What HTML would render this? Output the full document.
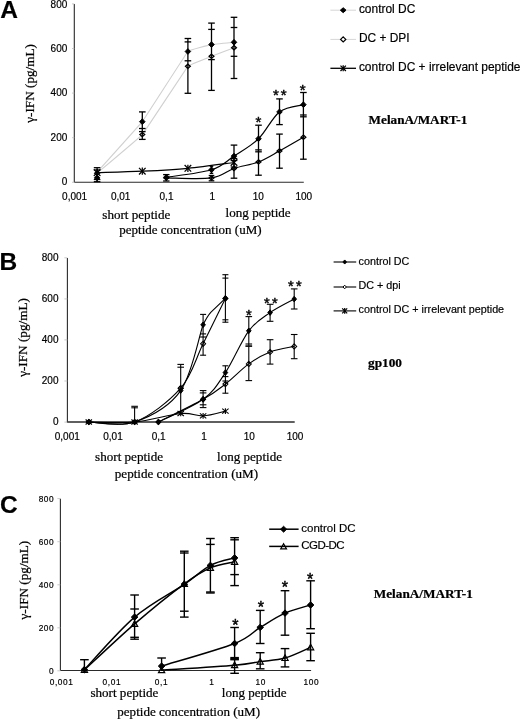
<!DOCTYPE html>
<html lang="en">
<head>
<meta charset="utf-8">
<title>Figure</title>
<style>
html,body{margin:0;padding:0;background:#fff;}
body{width:520px;height:719px;overflow:hidden;}
svg{display:block;}
</style>
</head>
<body>
<svg width="520" height="719" viewBox="0 0 520 719">
<defs><filter id="soft" x="0" y="0" width="100%" height="100%" filterUnits="objectBoundingBox"><feGaussianBlur stdDeviation="0.38"/></filter></defs>
<rect width="520" height="719" fill="#fff"/>
<g filter="url(#soft)">
<rect width="520" height="719" fill="#fff"/>
<line x1="74.3" y1="3.9" x2="74.3" y2="182.2" stroke="#2a2a2a" stroke-width="1.1"/>
<line x1="74.3" y1="182.2" x2="303.8" y2="182.2" stroke="#2a2a2a" stroke-width="1.1"/>
<text x="67.3" y="7.5" font-family="&quot;Liberation Sans&quot;,Arial,sans-serif" font-size="10" font-weight="normal" text-anchor="end" stroke="#000" stroke-width="0.18" >800</text>
<line x1="72" y1="3.9" x2="74.3" y2="3.9" stroke="#bbb" stroke-width="0.8"/>
<text x="67.3" y="51.9" font-family="&quot;Liberation Sans&quot;,Arial,sans-serif" font-size="10" font-weight="normal" text-anchor="end" stroke="#000" stroke-width="0.18" >600</text>
<line x1="72" y1="48.5" x2="74.3" y2="48.5" stroke="#bbb" stroke-width="0.8"/>
<text x="67.3" y="96.3" font-family="&quot;Liberation Sans&quot;,Arial,sans-serif" font-size="10" font-weight="normal" text-anchor="end" stroke="#000" stroke-width="0.18" >400</text>
<line x1="72" y1="93.1" x2="74.3" y2="93.1" stroke="#bbb" stroke-width="0.8"/>
<text x="67.3" y="140.8" font-family="&quot;Liberation Sans&quot;,Arial,sans-serif" font-size="10" font-weight="normal" text-anchor="end" stroke="#000" stroke-width="0.18" >200</text>
<line x1="72" y1="137.7" x2="74.3" y2="137.7" stroke="#bbb" stroke-width="0.8"/>
<text x="67.3" y="185.2" font-family="&quot;Liberation Sans&quot;,Arial,sans-serif" font-size="10" font-weight="normal" text-anchor="end" stroke="#000" stroke-width="0.18" >0</text>
<line x1="72" y1="182.3" x2="74.3" y2="182.3" stroke="#bbb" stroke-width="0.8"/>
<text x="74.6" y="200.1" font-family="&quot;Liberation Sans&quot;,Arial,sans-serif" font-size="10" font-weight="normal" text-anchor="middle" stroke="#000" stroke-width="0.18" >0,001</text>
<text x="120.7" y="200.1" font-family="&quot;Liberation Sans&quot;,Arial,sans-serif" font-size="10" font-weight="normal" text-anchor="middle" stroke="#000" stroke-width="0.18" >0,01</text>
<text x="166.5" y="200.1" font-family="&quot;Liberation Sans&quot;,Arial,sans-serif" font-size="10" font-weight="normal" text-anchor="middle" stroke="#000" stroke-width="0.18" >0,1</text>
<text x="212.2" y="200.1" font-family="&quot;Liberation Sans&quot;,Arial,sans-serif" font-size="10" font-weight="normal" text-anchor="middle" stroke="#000" stroke-width="0.18" >1</text>
<text x="258.3" y="200.1" font-family="&quot;Liberation Sans&quot;,Arial,sans-serif" font-size="10" font-weight="normal" text-anchor="middle" stroke="#000" stroke-width="0.18" >10</text>
<text x="303.8" y="200.1" font-family="&quot;Liberation Sans&quot;,Arial,sans-serif" font-size="10" font-weight="normal" text-anchor="middle" stroke="#000" stroke-width="0.18" >100</text>
<path d="M97.1 172.2 C98 171.19 140.48 124.11 142.3 121.7 C144.12 119.29 186.52 53.04 187.9 51.5 C189.28 49.96 210.58 44.78 211.5 44.6 C212.42 44.42 233.55 42.35 234 42.3" stroke="#d0d0d0" stroke-width="1.1" fill="none"/>
<path d="M97.1 173.2 C98 172.43 140.48 136.74 142.3 134.6 C144.12 132.46 186.52 67.87 187.9 66.3 C189.28 64.73 210.58 56.67 211.5 56.3 C212.42 55.93 233.55 47.87 234 47.7" stroke="#d0d0d0" stroke-width="1.1" fill="none"/>
<path d="M97.1 172.7 C104.63 172.45 127.17 171.93 142.3 171.2 C157.43 170.47 172.62 169.75 187.9 168.3 C203.18 166.85 226.32 163.47 234 162.5" stroke="#000" stroke-width="1.25" fill="none"/>
<path d="M166.3 177.3 C173.83 176.05 200.22 173.33 211.5 169.8 C222.78 166.27 226.17 161.27 234 156.1 C241.83 150.93 250.92 146.17 258.5 138.8 C266.08 131.43 272.02 117.58 279.5 111.9 C286.98 106.22 299.42 105.9 303.4 104.7" stroke="#000" stroke-width="1.2" fill="none"/>
<path d="M166.3 177.9 C173.83 177.9 200.22 179.47 211.5 177.9 C222.78 176.33 226.17 171.17 234 168.5 C241.83 165.83 250.92 164.83 258.5 161.9 C266.08 158.97 272.02 155.02 279.5 150.9 C286.98 146.78 299.42 139.48 303.4 137.2" stroke="#000" stroke-width="1.2" fill="none"/>
<line x1="93.8" y1="167.7" x2="100.4" y2="167.7" stroke="#000" stroke-width="1.3"/>
<line x1="93.8" y1="170" x2="100.4" y2="170" stroke="#000" stroke-width="1.3"/>
<line x1="93.8" y1="179.5" x2="100.4" y2="179.5" stroke="#000" stroke-width="1.3"/>
<line x1="93.8" y1="181.7" x2="100.4" y2="181.7" stroke="#000" stroke-width="1.3"/>
<line x1="139" y1="111.9" x2="145.6" y2="111.9" stroke="#000" stroke-width="1.3"/>
<line x1="139" y1="131.6" x2="145.6" y2="131.6" stroke="#000" stroke-width="1.3"/>
<line x1="139" y1="128.5" x2="145.6" y2="128.5" stroke="#000" stroke-width="1.3"/>
<line x1="139" y1="139.4" x2="145.6" y2="139.4" stroke="#000" stroke-width="1.3"/>
<line x1="184.6" y1="41.9" x2="191.2" y2="41.9" stroke="#000" stroke-width="1.3"/>
<line x1="184.6" y1="60.8" x2="191.2" y2="60.8" stroke="#000" stroke-width="1.3"/>
<line x1="184.6" y1="38.5" x2="191.2" y2="38.5" stroke="#000" stroke-width="1.3"/>
<line x1="184.6" y1="93.3" x2="191.2" y2="93.3" stroke="#000" stroke-width="1.3"/>
<line x1="208.2" y1="29.4" x2="214.8" y2="29.4" stroke="#000" stroke-width="1.3"/>
<line x1="208.2" y1="59.6" x2="214.8" y2="59.6" stroke="#000" stroke-width="1.3"/>
<line x1="208.2" y1="23.1" x2="214.8" y2="23.1" stroke="#000" stroke-width="1.3"/>
<line x1="208.2" y1="90.4" x2="214.8" y2="90.4" stroke="#000" stroke-width="1.3"/>
<line x1="230.7" y1="27.5" x2="237.3" y2="27.5" stroke="#000" stroke-width="1.3"/>
<line x1="230.7" y1="56.3" x2="237.3" y2="56.3" stroke="#000" stroke-width="1.3"/>
<line x1="230.7" y1="17.3" x2="237.3" y2="17.3" stroke="#000" stroke-width="1.3"/>
<line x1="230.7" y1="78.5" x2="237.3" y2="78.5" stroke="#000" stroke-width="1.3"/>
<line x1="163.1" y1="174.6" x2="169.5" y2="174.6" stroke="#000" stroke-width="1.3"/>
<line x1="163.1" y1="181" x2="169.5" y2="181" stroke="#000" stroke-width="1.3"/>
<line x1="209.75" y1="166.3" x2="213.25" y2="166.3" stroke="#000" stroke-width="1.3"/>
<line x1="209.75" y1="173.4" x2="213.25" y2="173.4" stroke="#000" stroke-width="1.3"/>
<line x1="208.7" y1="175.5" x2="214.3" y2="175.5" stroke="#000" stroke-width="1.3"/>
<line x1="208.7" y1="180.8" x2="214.3" y2="180.8" stroke="#000" stroke-width="1.3"/>
<line x1="230.7" y1="145.1" x2="237.3" y2="145.1" stroke="#000" stroke-width="1.3"/>
<line x1="230.7" y1="167" x2="237.3" y2="167" stroke="#000" stroke-width="1.3"/>
<line x1="230.7" y1="158.5" x2="237.3" y2="158.5" stroke="#000" stroke-width="1.3"/>
<line x1="230.7" y1="160.5" x2="237.3" y2="160.5" stroke="#000" stroke-width="1.3"/>
<line x1="230.7" y1="178.2" x2="237.3" y2="178.2" stroke="#000" stroke-width="1.3"/>
<line x1="255.2" y1="125.2" x2="261.8" y2="125.2" stroke="#000" stroke-width="1.3"/>
<line x1="255.2" y1="151.8" x2="261.8" y2="151.8" stroke="#000" stroke-width="1.3"/>
<line x1="255.2" y1="149.9" x2="261.8" y2="149.9" stroke="#000" stroke-width="1.3"/>
<line x1="255.2" y1="175.2" x2="261.8" y2="175.2" stroke="#000" stroke-width="1.3"/>
<line x1="276.2" y1="98.9" x2="282.8" y2="98.9" stroke="#000" stroke-width="1.3"/>
<line x1="276.2" y1="124.6" x2="282.8" y2="124.6" stroke="#000" stroke-width="1.3"/>
<line x1="276.2" y1="134.1" x2="282.8" y2="134.1" stroke="#000" stroke-width="1.3"/>
<line x1="276.2" y1="168.2" x2="282.8" y2="168.2" stroke="#000" stroke-width="1.3"/>
<line x1="300.1" y1="92.5" x2="306.7" y2="92.5" stroke="#000" stroke-width="1.3"/>
<line x1="300.1" y1="116.8" x2="306.7" y2="116.8" stroke="#000" stroke-width="1.3"/>
<line x1="300.1" y1="115" x2="306.7" y2="115" stroke="#000" stroke-width="1.3"/>
<line x1="300.1" y1="159.2" x2="306.7" y2="159.2" stroke="#000" stroke-width="1.3"/>
<line x1="97.1" y1="167.7" x2="97.1" y2="181.7" stroke="#000" stroke-width="1.3"/>
<line x1="142.3" y1="111.9" x2="142.3" y2="139.4" stroke="#000" stroke-width="1.3"/>
<line x1="187.9" y1="38.5" x2="187.9" y2="93.3" stroke="#000" stroke-width="1.3"/>
<line x1="211.5" y1="23.1" x2="211.5" y2="90.4" stroke="#000" stroke-width="1.3"/>
<line x1="211.5" y1="166.3" x2="211.5" y2="173.4" stroke="#000" stroke-width="1.3"/>
<line x1="211.5" y1="175.5" x2="211.5" y2="180.8" stroke="#000" stroke-width="1.3"/>
<line x1="234" y1="17.3" x2="234" y2="78.5" stroke="#000" stroke-width="1.3"/>
<line x1="234" y1="145.1" x2="234" y2="178.2" stroke="#000" stroke-width="1.3"/>
<line x1="166.3" y1="174.6" x2="166.3" y2="181" stroke="#000" stroke-width="1.3"/>
<line x1="258.5" y1="125.2" x2="258.5" y2="175.2" stroke="#000" stroke-width="1.3"/>
<line x1="279.5" y1="98.9" x2="279.5" y2="124.6" stroke="#000" stroke-width="1.3"/>
<line x1="279.5" y1="134.1" x2="279.5" y2="168.2" stroke="#000" stroke-width="1.3"/>
<line x1="303.4" y1="92.5" x2="303.4" y2="159.2" stroke="#000" stroke-width="1.3"/>
<path d="M97.1 171.1 L99.5 173.2 L97.1 175.3 L94.7 173.2Z" fill="none" stroke="#000" stroke-width="1.3"/>
<path d="M142.3 132.5 L144.7 134.6 L142.3 136.7 L139.9 134.6Z" fill="none" stroke="#000" stroke-width="1.3"/>
<path d="M187.9 64.2 L190.3 66.3 L187.9 68.4 L185.5 66.3Z" fill="none" stroke="#000" stroke-width="1.3"/>
<path d="M211.5 54.2 L213.9 56.3 L211.5 58.4 L209.1 56.3Z" fill="none" stroke="#000" stroke-width="1.3"/>
<path d="M234 45.6 L236.4 47.7 L234 49.8 L231.6 47.7Z" fill="none" stroke="#000" stroke-width="1.3"/>
<path d="M97.1 175.05 L99.85 177.9 L97.1 180.75 L94.35 177.9Z" fill="#000" stroke="#000" stroke-width="1"/>
<path d="M142.3 118.85 L145.05 121.7 L142.3 124.55 L139.55 121.7Z" fill="#000" stroke="#000" stroke-width="1"/>
<path d="M187.9 48.65 L190.65 51.5 L187.9 54.35 L185.15 51.5Z" fill="#000" stroke="#000" stroke-width="1"/>
<path d="M211.5 41.75 L214.25 44.6 L211.5 47.45 L208.75 44.6Z" fill="#000" stroke="#000" stroke-width="1"/>
<path d="M234 39.45 L236.75 42.3 L234 45.15 L231.25 42.3Z" fill="#000" stroke="#000" stroke-width="1"/>
<line x1="93.8" y1="169.4" x2="100.4" y2="176" stroke="#000" stroke-width="1.25"/>
<line x1="93.8" y1="176" x2="100.4" y2="169.4" stroke="#000" stroke-width="1.25"/>
<line x1="97.1" y1="169.1" x2="97.1" y2="176.3" stroke="#000" stroke-width="1.25"/>
<line x1="139" y1="167.9" x2="145.6" y2="174.5" stroke="#000" stroke-width="1.25"/>
<line x1="139" y1="174.5" x2="145.6" y2="167.9" stroke="#000" stroke-width="1.25"/>
<line x1="142.3" y1="167.6" x2="142.3" y2="174.8" stroke="#000" stroke-width="1.25"/>
<line x1="184.6" y1="165" x2="191.2" y2="171.6" stroke="#000" stroke-width="1.25"/>
<line x1="184.6" y1="171.6" x2="191.2" y2="165" stroke="#000" stroke-width="1.25"/>
<line x1="187.9" y1="164.7" x2="187.9" y2="171.9" stroke="#000" stroke-width="1.25"/>
<line x1="230.7" y1="159.2" x2="237.3" y2="165.8" stroke="#000" stroke-width="1.25"/>
<line x1="230.7" y1="165.8" x2="237.3" y2="159.2" stroke="#000" stroke-width="1.25"/>
<line x1="234" y1="158.9" x2="234" y2="166.1" stroke="#000" stroke-width="1.25"/>
<path d="M166.3 175.8 L168.7 177.9 L166.3 180 L163.9 177.9Z" fill="none" stroke="#000" stroke-width="1.3"/>
<path d="M211.5 175.8 L213.9 177.9 L211.5 180 L209.1 177.9Z" fill="none" stroke="#000" stroke-width="1.3"/>
<path d="M234 166.4 L236.4 168.5 L234 170.6 L231.6 168.5Z" fill="none" stroke="#000" stroke-width="1.3"/>
<path d="M258.5 159.8 L260.9 161.9 L258.5 164 L256.1 161.9Z" fill="none" stroke="#000" stroke-width="1.3"/>
<path d="M279.5 148.8 L281.9 150.9 L279.5 153 L277.1 150.9Z" fill="none" stroke="#000" stroke-width="1.3"/>
<path d="M303.4 135.1 L305.8 137.2 L303.4 139.3 L301 137.2Z" fill="none" stroke="#000" stroke-width="1.3"/>
<path d="M166.3 174.45 L169.05 177.3 L166.3 180.15 L163.55 177.3Z" fill="#000" stroke="#000" stroke-width="1"/>
<path d="M211.5 166.95 L214.25 169.8 L211.5 172.65 L208.75 169.8Z" fill="#000" stroke="#000" stroke-width="1"/>
<path d="M234 153.25 L236.75 156.1 L234 158.95 L231.25 156.1Z" fill="#000" stroke="#000" stroke-width="1"/>
<path d="M258.5 135.95 L261.25 138.8 L258.5 141.65 L255.75 138.8Z" fill="#000" stroke="#000" stroke-width="1"/>
<path d="M279.5 109.05 L282.25 111.9 L279.5 114.75 L276.75 111.9Z" fill="#000" stroke="#000" stroke-width="1"/>
<path d="M303.4 101.85 L306.15 104.7 L303.4 107.55 L300.65 104.7Z" fill="#000" stroke="#000" stroke-width="1"/>
<text x="258.5" y="126.6" font-family="&quot;Liberation Sans&quot;,Arial,sans-serif" font-size="15" font-weight="normal" text-anchor="middle" stroke="#000" stroke-width="0.45" >*</text>
<text x="275.85" y="100" font-family="&quot;Liberation Sans&quot;,Arial,sans-serif" font-size="15" font-weight="normal" text-anchor="middle" stroke="#000" stroke-width="0.45" >*</text>
<text x="283.75" y="100" font-family="&quot;Liberation Sans&quot;,Arial,sans-serif" font-size="15" font-weight="normal" text-anchor="middle" stroke="#000" stroke-width="0.45" >*</text>
<text x="302.7" y="95.1" font-family="&quot;Liberation Sans&quot;,Arial,sans-serif" font-size="15" font-weight="normal" text-anchor="middle" stroke="#000" stroke-width="0.45" >*</text>
<text x="0.3" y="17.9" font-family="&quot;Liberation Sans&quot;,Arial,sans-serif" font-size="24.5" font-weight="bold" text-anchor="start" stroke="#000" stroke-width="0.18" >A</text>
<text x="102.3" y="218.6" font-family="&quot;Liberation Serif&quot;,&quot;Times New Roman&quot;,serif" font-size="13.1" font-weight="normal" text-anchor="start" stroke="#000" stroke-width="0.22" >short peptide</text>
<text x="225.6" y="216.7" font-family="&quot;Liberation Serif&quot;,&quot;Times New Roman&quot;,serif" font-size="13.1" font-weight="normal" text-anchor="start" stroke="#000" stroke-width="0.22" >long peptide</text>
<text x="119.3" y="234.4" font-family="&quot;Liberation Serif&quot;,&quot;Times New Roman&quot;,serif" font-size="13" font-weight="normal" text-anchor="start" stroke="#000" stroke-width="0.22" >peptide concentration (uM)</text>
<text transform="translate(34.2,83.4) rotate(-90)" font-family="&quot;Liberation Serif&quot;,serif" font-size="13.2" text-anchor="middle" stroke="#000" stroke-width="0.22">γ-IFN (pg/mL)</text>
<line x1="330.4" y1="10.2" x2="356" y2="10.2" stroke="#d6d6d6" stroke-width="1"/>
<path d="M343.2 7.75 L346.05 10.2 L343.2 12.65 L340.35 10.2Z" fill="#000" stroke="#000" stroke-width="1"/>
<text x="358.9" y="13.1" font-family="&quot;Liberation Sans&quot;,Arial,sans-serif" font-size="11.95" font-weight="normal" text-anchor="start" stroke="#000" stroke-width="0.18" >control DC</text>
<line x1="330.4" y1="39.4" x2="356" y2="39.4" stroke="#d6d6d6" stroke-width="1"/>
<path d="M343.2 36.85 L345.8 39.4 L343.2 41.95 L340.6 39.4Z" fill="#fff" stroke="#000" stroke-width="1.2"/>
<text x="358.9" y="42.4" font-family="&quot;Liberation Sans&quot;,Arial,sans-serif" font-size="11.95" font-weight="normal" text-anchor="start" stroke="#000" stroke-width="0.18" >DC + DPI</text>
<line x1="330.4" y1="68.3" x2="356" y2="68.3" stroke="#000" stroke-width="1.3"/>
<line x1="340.5" y1="65.6" x2="345.9" y2="71" stroke="#000" stroke-width="1.25"/>
<line x1="340.5" y1="71" x2="345.9" y2="65.6" stroke="#000" stroke-width="1.25"/>
<line x1="343.2" y1="65.3" x2="343.2" y2="71.3" stroke="#000" stroke-width="1.25"/>
<text x="358.9" y="70.9" font-family="&quot;Liberation Sans&quot;,Arial,sans-serif" font-size="11.95" font-weight="normal" text-anchor="start" stroke="#000" stroke-width="0.18" >control DC + irrelevant peptide</text>
<text x="368.6" y="124.1" font-family="&quot;Liberation Serif&quot;,&quot;Times New Roman&quot;,serif" font-size="13.2" font-weight="bold" text-anchor="start" stroke="#000" stroke-width="0.22" >MelanA/MART-1</text>
<line x1="67.4" y1="257.9" x2="67.4" y2="422" stroke="#2a2a2a" stroke-width="1.1"/>
<line x1="66.9" y1="422" x2="294.7" y2="422" stroke="#2a2a2a" stroke-width="1.35"/>
<text x="58.5" y="260.9" font-family="&quot;Liberation Sans&quot;,Arial,sans-serif" font-size="10" font-weight="normal" text-anchor="end" stroke="#000" stroke-width="0.18" >800</text>
<line x1="64.4" y1="257.8" x2="67.4" y2="257.8" stroke="#bbb" stroke-width="0.8"/>
<text x="58.5" y="301.9" font-family="&quot;Liberation Sans&quot;,Arial,sans-serif" font-size="10" font-weight="normal" text-anchor="end" stroke="#000" stroke-width="0.18" >600</text>
<line x1="64.4" y1="298.9" x2="67.4" y2="298.9" stroke="#bbb" stroke-width="0.8"/>
<text x="58.5" y="342.8" font-family="&quot;Liberation Sans&quot;,Arial,sans-serif" font-size="10" font-weight="normal" text-anchor="end" stroke="#000" stroke-width="0.18" >400</text>
<line x1="64.4" y1="339.9" x2="67.4" y2="339.9" stroke="#bbb" stroke-width="0.8"/>
<text x="58.5" y="383.8" font-family="&quot;Liberation Sans&quot;,Arial,sans-serif" font-size="10" font-weight="normal" text-anchor="end" stroke="#000" stroke-width="0.18" >200</text>
<line x1="64.4" y1="381" x2="67.4" y2="381" stroke="#bbb" stroke-width="0.8"/>
<text x="58.5" y="424.7" font-family="&quot;Liberation Sans&quot;,Arial,sans-serif" font-size="10" font-weight="normal" text-anchor="end" stroke="#000" stroke-width="0.18" >0</text>
<line x1="64.4" y1="422.1" x2="67.4" y2="422.1" stroke="#bbb" stroke-width="0.8"/>
<text x="67.3" y="440.2" font-family="&quot;Liberation Sans&quot;,Arial,sans-serif" font-size="10" font-weight="normal" text-anchor="middle" stroke="#000" stroke-width="0.18" >0,001</text>
<text x="113" y="440.2" font-family="&quot;Liberation Sans&quot;,Arial,sans-serif" font-size="10" font-weight="normal" text-anchor="middle" stroke="#000" stroke-width="0.18" >0,01</text>
<text x="158.7" y="440.2" font-family="&quot;Liberation Sans&quot;,Arial,sans-serif" font-size="10" font-weight="normal" text-anchor="middle" stroke="#000" stroke-width="0.18" >0,1</text>
<text x="204" y="440.2" font-family="&quot;Liberation Sans&quot;,Arial,sans-serif" font-size="10" font-weight="normal" text-anchor="middle" stroke="#000" stroke-width="0.18" >1</text>
<text x="249.3" y="440.2" font-family="&quot;Liberation Sans&quot;,Arial,sans-serif" font-size="10" font-weight="normal" text-anchor="middle" stroke="#000" stroke-width="0.18" >10</text>
<text x="295.1" y="440.2" font-family="&quot;Liberation Sans&quot;,Arial,sans-serif" font-size="10" font-weight="normal" text-anchor="middle" stroke="#000" stroke-width="0.18" >100</text>
<path d="M88.8 422 C96.43 422 119.28 427.23 134.6 422 C149.92 416.77 169.28 406.8 180.7 390.6 C192.12 374.4 198.72 336.9 203.1 324.8 Q207.2 316.2 211 312.1 L225.4 298.4" stroke="#000" stroke-width="1.1" fill="none"/>
<path d="M88.8 422 C96.43 422 119.28 427.63 134.6 422 C149.92 416.37 169.28 401.23 180.7 388.2 C192.12 375.17 195.65 358.77 203.1 343.8 C210.55 328.83 221.68 305.97 225.4 298.4" stroke="#000" stroke-width="1.1" fill="none"/>
<path d="M88.8 422 C96.43 422 119.28 423.42 134.6 422 C149.92 420.58 169.28 414.52 180.7 413.5 C192.12 412.48 195.65 416.3 203.1 415.9 C210.55 415.5 221.68 411.9 225.4 411.1" stroke="#000" stroke-width="1.1" fill="none"/>
<path d="M158.4 422 C165.85 418.22 191.93 407.53 203.1 399.3 C214.27 391.07 217.78 384.02 225.4 372.6 C233.02 361.18 241.35 340.8 248.8 330.8 C256.25 320.8 262.53 317.88 270.1 312.6 C277.67 307.32 290.18 301.35 294.2 299.1" stroke="#000" stroke-width="1.1" fill="none"/>
<path d="M158.4 422 C165.85 418.22 191.93 405.62 203.1 399.3 C214.27 392.98 217.78 390 225.4 384.1 C233.02 378.2 241.35 369.25 248.8 363.9 C256.25 358.55 262.53 354.92 270.1 352 C277.67 349.08 290.18 347.33 294.2 346.4" stroke="#000" stroke-width="1.1" fill="none"/>
<line x1="131.3" y1="406.3" x2="137.9" y2="406.3" stroke="#000" stroke-width="1.1"/>
<line x1="131.3" y1="407.8" x2="137.9" y2="407.8" stroke="#000" stroke-width="1.1"/>
<line x1="177.4" y1="364.4" x2="184" y2="364.4" stroke="#000" stroke-width="1.1"/>
<line x1="177.4" y1="367.2" x2="184" y2="367.2" stroke="#000" stroke-width="1.1"/>
<line x1="200.1" y1="314.4" x2="206.1" y2="314.4" stroke="#000" stroke-width="1.1"/>
<line x1="200.1" y1="337" x2="206.1" y2="337" stroke="#000" stroke-width="1.1"/>
<line x1="200.1" y1="333.9" x2="206.1" y2="333.9" stroke="#000" stroke-width="1.1"/>
<line x1="200.1" y1="355.2" x2="206.1" y2="355.2" stroke="#000" stroke-width="1.1"/>
<line x1="222.4" y1="274.7" x2="228.4" y2="274.7" stroke="#000" stroke-width="1.1"/>
<line x1="222.4" y1="278.1" x2="228.4" y2="278.1" stroke="#000" stroke-width="1.1"/>
<line x1="222.4" y1="319.8" x2="228.4" y2="319.8" stroke="#000" stroke-width="1.1"/>
<line x1="222.4" y1="322.2" x2="228.4" y2="322.2" stroke="#000" stroke-width="1.1"/>
<line x1="199.8" y1="390.6" x2="206.4" y2="390.6" stroke="#000" stroke-width="1.1"/>
<line x1="199.8" y1="392.9" x2="206.4" y2="392.9" stroke="#000" stroke-width="1.1"/>
<line x1="199.8" y1="404.8" x2="206.4" y2="404.8" stroke="#000" stroke-width="1.1"/>
<line x1="199.8" y1="407.6" x2="206.4" y2="407.6" stroke="#000" stroke-width="1.1"/>
<line x1="222.4" y1="365.8" x2="228.4" y2="365.8" stroke="#000" stroke-width="1.1"/>
<line x1="222.4" y1="381" x2="228.4" y2="381" stroke="#000" stroke-width="1.1"/>
<line x1="222.4" y1="376.6" x2="228.4" y2="376.6" stroke="#000" stroke-width="1.1"/>
<line x1="222.4" y1="393.2" x2="228.4" y2="393.2" stroke="#000" stroke-width="1.1"/>
<line x1="245.5" y1="316.6" x2="252.1" y2="316.6" stroke="#000" stroke-width="1.1"/>
<line x1="245.5" y1="344" x2="252.1" y2="344" stroke="#000" stroke-width="1.1"/>
<line x1="245.5" y1="346.1" x2="252.1" y2="346.1" stroke="#000" stroke-width="1.1"/>
<line x1="245.5" y1="346.1" x2="252.1" y2="346.1" stroke="#000" stroke-width="1.1"/>
<line x1="245.5" y1="380.6" x2="252.1" y2="380.6" stroke="#000" stroke-width="1.1"/>
<line x1="266.8" y1="304.3" x2="273.4" y2="304.3" stroke="#000" stroke-width="1.1"/>
<line x1="266.8" y1="321.3" x2="273.4" y2="321.3" stroke="#000" stroke-width="1.1"/>
<line x1="266.8" y1="339.7" x2="273.4" y2="339.7" stroke="#000" stroke-width="1.1"/>
<line x1="266.8" y1="364.1" x2="273.4" y2="364.1" stroke="#000" stroke-width="1.1"/>
<line x1="290.9" y1="288.9" x2="297.5" y2="288.9" stroke="#000" stroke-width="1.1"/>
<line x1="290.9" y1="309" x2="297.5" y2="309" stroke="#000" stroke-width="1.1"/>
<line x1="290.9" y1="334.5" x2="297.5" y2="334.5" stroke="#000" stroke-width="1.1"/>
<line x1="290.9" y1="358.7" x2="297.5" y2="358.7" stroke="#000" stroke-width="1.1"/>
<line x1="134.6" y1="406.9" x2="134.6" y2="422" stroke="#000" stroke-width="1.1"/>
<line x1="180.7" y1="364.4" x2="180.7" y2="413" stroke="#000" stroke-width="1.1"/>
<line x1="203.1" y1="314.4" x2="203.1" y2="355.2" stroke="#000" stroke-width="1.1"/>
<line x1="203.1" y1="390.6" x2="203.1" y2="407.6" stroke="#000" stroke-width="1.1"/>
<line x1="225.4" y1="274.7" x2="225.4" y2="322.2" stroke="#000" stroke-width="1.1"/>
<line x1="225.4" y1="365.8" x2="225.4" y2="393.2" stroke="#000" stroke-width="1.1"/>
<line x1="248.8" y1="316.6" x2="248.8" y2="380.6" stroke="#000" stroke-width="1.1"/>
<line x1="270.1" y1="304.3" x2="270.1" y2="321.3" stroke="#000" stroke-width="1.1"/>
<line x1="270.1" y1="339.7" x2="270.1" y2="364.1" stroke="#000" stroke-width="1.1"/>
<line x1="294.2" y1="288.9" x2="294.2" y2="309" stroke="#000" stroke-width="1.1"/>
<line x1="294.2" y1="334.5" x2="294.2" y2="358.7" stroke="#000" stroke-width="1.1"/>
<path d="M88.8 419.4 L91.3 422 L88.8 424.6 L86.3 422Z" fill="none" stroke="#000" stroke-width="1.05"/>
<path d="M134.6 419.4 L137.1 422 L134.6 424.6 L132.1 422Z" fill="none" stroke="#000" stroke-width="1.05"/>
<path d="M180.7 385.6 L183.2 388.2 L180.7 390.8 L178.2 388.2Z" fill="none" stroke="#000" stroke-width="1.05"/>
<path d="M203.1 341.2 L205.6 343.8 L203.1 346.4 L200.6 343.8Z" fill="none" stroke="#000" stroke-width="1.05"/>
<path d="M225.4 295.8 L227.9 298.4 L225.4 301 L222.9 298.4Z" fill="none" stroke="#000" stroke-width="1.05"/>
<path d="M158.4 419.4 L160.9 422 L158.4 424.6 L155.9 422Z" fill="none" stroke="#000" stroke-width="1.05"/>
<path d="M203.1 396.7 L205.6 399.3 L203.1 401.9 L200.6 399.3Z" fill="none" stroke="#000" stroke-width="1.05"/>
<path d="M225.4 381.5 L227.9 384.1 L225.4 386.7 L222.9 384.1Z" fill="none" stroke="#000" stroke-width="1.05"/>
<path d="M248.8 361.3 L251.3 363.9 L248.8 366.5 L246.3 363.9Z" fill="none" stroke="#000" stroke-width="1.05"/>
<path d="M270.1 349.4 L272.6 352 L270.1 354.6 L267.6 352Z" fill="none" stroke="#000" stroke-width="1.05"/>
<path d="M294.2 343.8 L296.7 346.4 L294.2 349 L291.7 346.4Z" fill="none" stroke="#000" stroke-width="1.05"/>
<line x1="85.6" y1="419.5" x2="92" y2="424.5" stroke="#000" stroke-width="1.1"/>
<line x1="85.6" y1="424.5" x2="92" y2="419.5" stroke="#000" stroke-width="1.1"/>
<line x1="88.8" y1="419.2" x2="88.8" y2="424.8" stroke="#000" stroke-width="1.1"/>
<line x1="131.4" y1="419.5" x2="137.8" y2="424.5" stroke="#000" stroke-width="1.1"/>
<line x1="131.4" y1="424.5" x2="137.8" y2="419.5" stroke="#000" stroke-width="1.1"/>
<line x1="134.6" y1="419.2" x2="134.6" y2="424.8" stroke="#000" stroke-width="1.1"/>
<line x1="177.5" y1="411" x2="183.9" y2="416" stroke="#000" stroke-width="1.1"/>
<line x1="177.5" y1="416" x2="183.9" y2="411" stroke="#000" stroke-width="1.1"/>
<line x1="180.7" y1="410.7" x2="180.7" y2="416.3" stroke="#000" stroke-width="1.1"/>
<line x1="199.9" y1="413.4" x2="206.3" y2="418.4" stroke="#000" stroke-width="1.1"/>
<line x1="199.9" y1="418.4" x2="206.3" y2="413.4" stroke="#000" stroke-width="1.1"/>
<line x1="203.1" y1="413.1" x2="203.1" y2="418.7" stroke="#000" stroke-width="1.1"/>
<line x1="222.2" y1="408.6" x2="228.6" y2="413.6" stroke="#000" stroke-width="1.1"/>
<line x1="222.2" y1="413.6" x2="228.6" y2="408.6" stroke="#000" stroke-width="1.1"/>
<line x1="225.4" y1="408.3" x2="225.4" y2="413.9" stroke="#000" stroke-width="1.1"/>
<path d="M88.8 419.2 L91.1 422 L88.8 424.8 L86.5 422Z" fill="#000" stroke="#000" stroke-width="1"/>
<path d="M134.6 419.2 L136.9 422 L134.6 424.8 L132.3 422Z" fill="#000" stroke="#000" stroke-width="1"/>
<path d="M180.7 387.8 L183 390.6 L180.7 393.4 L178.4 390.6Z" fill="#000" stroke="#000" stroke-width="1"/>
<path d="M203.1 322 L205.4 324.8 L203.1 327.6 L200.8 324.8Z" fill="#000" stroke="#000" stroke-width="1"/>
<path d="M225.4 295.6 L227.7 298.4 L225.4 301.2 L223.1 298.4Z" fill="#000" stroke="#000" stroke-width="1"/>
<path d="M158.4 419.2 L160.7 422 L158.4 424.8 L156.1 422Z" fill="#000" stroke="#000" stroke-width="1"/>
<path d="M203.1 396.5 L205.4 399.3 L203.1 402.1 L200.8 399.3Z" fill="#000" stroke="#000" stroke-width="1"/>
<path d="M225.4 369.8 L227.7 372.6 L225.4 375.4 L223.1 372.6Z" fill="#000" stroke="#000" stroke-width="1"/>
<path d="M248.8 328 L251.1 330.8 L248.8 333.6 L246.5 330.8Z" fill="#000" stroke="#000" stroke-width="1"/>
<path d="M270.1 309.8 L272.4 312.6 L270.1 315.4 L267.8 312.6Z" fill="#000" stroke="#000" stroke-width="1"/>
<path d="M294.2 296.3 L296.5 299.1 L294.2 301.9 L291.9 299.1Z" fill="#000" stroke="#000" stroke-width="1"/>
<path d="M180.7 385.6 L183.2 388.2 L180.7 390.8 L178.2 388.2Z" fill="none" stroke="#000" stroke-width="1.05"/>
<text x="248.8" y="320.03" font-family="&quot;Liberation Sans&quot;,Arial,sans-serif" font-size="14.5" font-weight="normal" text-anchor="middle" stroke="#000" stroke-width="0.45" >*</text>
<text x="266.75" y="307.63" font-family="&quot;Liberation Sans&quot;,Arial,sans-serif" font-size="14.5" font-weight="normal" text-anchor="middle" stroke="#000" stroke-width="0.45" >*</text>
<text x="274.85" y="307.63" font-family="&quot;Liberation Sans&quot;,Arial,sans-serif" font-size="14.5" font-weight="normal" text-anchor="middle" stroke="#000" stroke-width="0.45" >*</text>
<text x="290.75" y="291.43" font-family="&quot;Liberation Sans&quot;,Arial,sans-serif" font-size="14.5" font-weight="normal" text-anchor="middle" stroke="#000" stroke-width="0.45" >*</text>
<text x="298.85" y="291.43" font-family="&quot;Liberation Sans&quot;,Arial,sans-serif" font-size="14.5" font-weight="normal" text-anchor="middle" stroke="#000" stroke-width="0.45" >*</text>
<text x="-0.6" y="269.8" font-family="&quot;Liberation Sans&quot;,Arial,sans-serif" font-size="24.5" font-weight="bold" text-anchor="start" stroke="#000" stroke-width="0.18" >B</text>
<text x="95.1" y="461.4" font-family="&quot;Liberation Serif&quot;,&quot;Times New Roman&quot;,serif" font-size="13.1" font-weight="normal" text-anchor="start" stroke="#000" stroke-width="0.22" >short peptide</text>
<text x="217.1" y="460.9" font-family="&quot;Liberation Serif&quot;,&quot;Times New Roman&quot;,serif" font-size="13.05" font-weight="normal" text-anchor="start" stroke="#000" stroke-width="0.22" >long peptide</text>
<text x="114.8" y="477.6" font-family="&quot;Liberation Serif&quot;,&quot;Times New Roman&quot;,serif" font-size="13.1" font-weight="normal" text-anchor="start" stroke="#000" stroke-width="0.22" >peptide concentration (uM)</text>
<text transform="translate(27.1,337.5) rotate(-90)" font-family="&quot;Liberation Serif&quot;,serif" font-size="13.2" text-anchor="middle" stroke="#000" stroke-width="0.22">γ-IFN (pg/mL)</text>
<line x1="333.6" y1="262" x2="356.2" y2="262" stroke="#000" stroke-width="1.1"/>
<path d="M344.7 259.95 L346.5 262 L344.7 264.05 L342.9 262Z" fill="#000" stroke="#000" stroke-width="1"/>
<text x="358.6" y="264.7" font-family="&quot;Liberation Sans&quot;,Arial,sans-serif" font-size="10.75" font-weight="normal" text-anchor="start" stroke="#000" stroke-width="0.18" >control DC</text>
<line x1="333.6" y1="287" x2="356.2" y2="287" stroke="#000" stroke-width="1.1"/>
<path d="M344.7 285.2 L346.4 287 L344.7 288.8 L343 287Z" fill="#fff" stroke="#000" stroke-width="1"/>
<text x="358.6" y="289.3" font-family="&quot;Liberation Sans&quot;,Arial,sans-serif" font-size="10.75" font-weight="normal" text-anchor="start" stroke="#000" stroke-width="0.18" >DC + dpi</text>
<line x1="333.6" y1="310.9" x2="356.2" y2="310.9" stroke="#000" stroke-width="1.1"/>
<line x1="342.2" y1="308.4" x2="347.2" y2="313.4" stroke="#000" stroke-width="1.25"/>
<line x1="342.2" y1="313.4" x2="347.2" y2="308.4" stroke="#000" stroke-width="1.25"/>
<line x1="344.7" y1="308.1" x2="344.7" y2="313.7" stroke="#000" stroke-width="1.25"/>
<text x="358.6" y="313.3" font-family="&quot;Liberation Sans&quot;,Arial,sans-serif" font-size="10.75" font-weight="normal" text-anchor="start" stroke="#000" stroke-width="0.18" >control DC + irrelevant peptide</text>
<text x="368" y="366.6" font-family="&quot;Liberation Serif&quot;,&quot;Times New Roman&quot;,serif" font-size="13.3" font-weight="bold" text-anchor="start" stroke="#000" stroke-width="0.22" >gp100</text>
<line x1="60.4" y1="498.8" x2="60.4" y2="670.5" stroke="#2a2a2a" stroke-width="1.1"/>
<line x1="60.4" y1="670.5" x2="311.1" y2="670.5" stroke="#2a2a2a" stroke-width="1.1"/>
<text x="54.3" y="501.6" font-family="&quot;Liberation Sans&quot;,Arial,sans-serif" font-size="8.3" font-weight="normal" text-anchor="end" stroke="#000" stroke-width="0.18" letter-spacing="0.6">800</text>
<line x1="57.4" y1="498.6" x2="60.4" y2="498.6" stroke="#bbb" stroke-width="0.8"/>
<text x="54.3" y="544.7" font-family="&quot;Liberation Sans&quot;,Arial,sans-serif" font-size="8.3" font-weight="normal" text-anchor="end" stroke="#000" stroke-width="0.18" letter-spacing="0.6">600</text>
<line x1="57.4" y1="541.7" x2="60.4" y2="541.7" stroke="#bbb" stroke-width="0.8"/>
<text x="54.3" y="587.8" font-family="&quot;Liberation Sans&quot;,Arial,sans-serif" font-size="8.3" font-weight="normal" text-anchor="end" stroke="#000" stroke-width="0.18" letter-spacing="0.6">400</text>
<line x1="57.4" y1="584.8" x2="60.4" y2="584.8" stroke="#bbb" stroke-width="0.8"/>
<text x="54.3" y="630.8" font-family="&quot;Liberation Sans&quot;,Arial,sans-serif" font-size="8.3" font-weight="normal" text-anchor="end" stroke="#000" stroke-width="0.18" letter-spacing="0.6">200</text>
<line x1="57.4" y1="627.8" x2="60.4" y2="627.8" stroke="#bbb" stroke-width="0.8"/>
<text x="54.3" y="673.8" font-family="&quot;Liberation Sans&quot;,Arial,sans-serif" font-size="8.3" font-weight="normal" text-anchor="end" stroke="#000" stroke-width="0.18" letter-spacing="0.6">0</text>
<line x1="57.4" y1="670.8" x2="60.4" y2="670.8" stroke="#bbb" stroke-width="0.8"/>
<text x="61.6" y="684.5" font-family="&quot;Liberation Sans&quot;,Arial,sans-serif" font-size="8.3" font-weight="normal" text-anchor="middle" stroke="#000" stroke-width="0.18" letter-spacing="0.6">0,001</text>
<text x="111.9" y="684.5" font-family="&quot;Liberation Sans&quot;,Arial,sans-serif" font-size="8.3" font-weight="normal" text-anchor="middle" stroke="#000" stroke-width="0.18" letter-spacing="0.6">0,01</text>
<text x="161.5" y="684.5" font-family="&quot;Liberation Sans&quot;,Arial,sans-serif" font-size="8.3" font-weight="normal" text-anchor="middle" stroke="#000" stroke-width="0.18" letter-spacing="0.6">0,1</text>
<text x="211.8" y="684.5" font-family="&quot;Liberation Sans&quot;,Arial,sans-serif" font-size="8.3" font-weight="normal" text-anchor="middle" stroke="#000" stroke-width="0.18" letter-spacing="0.6">1</text>
<text x="260.7" y="684.5" font-family="&quot;Liberation Sans&quot;,Arial,sans-serif" font-size="8.3" font-weight="normal" text-anchor="middle" stroke="#000" stroke-width="0.18" letter-spacing="0.6">10</text>
<text x="311.3" y="684.5" font-family="&quot;Liberation Sans&quot;,Arial,sans-serif" font-size="8.3" font-weight="normal" text-anchor="middle" stroke="#000" stroke-width="0.18" letter-spacing="0.6">100</text>
<path d="M84.4 669.6 C92.77 660.85 117.95 631.32 134.6 617.1 C151.25 602.88 171.67 592.92 184.3 584.3 C196.93 575.68 202.02 569.8 210.4 565.4 C218.78 561 230.57 559.15 234.6 557.9" stroke="#000" stroke-width="1.45" fill="none"/>
<path d="M84.4 670 C92.77 662.32 117.95 638.27 134.6 623.9 C151.25 609.53 171.67 593.13 184.3 583.8 C196.93 574.47 202.02 571.55 210.4 567.9 C218.78 564.25 230.57 562.9 234.6 561.9" stroke="#000" stroke-width="1.45" fill="none"/>
<path d="M161.6 666.1 C173.77 662.33 218.17 649.95 234.6 643.5 C251.03 637.05 251.8 632.47 260.2 627.4 C268.6 622.33 276.6 616.83 285 613.1 C293.4 609.37 306.33 606.35 310.6 605" stroke="#000" stroke-width="1.45" fill="none"/>
<path d="M161.6 670.2 C173.77 669.37 218.17 666.63 234.6 665.2 C251.03 663.77 251.8 662.8 260.2 661.6 C268.6 660.4 276.6 660.38 285 658 C293.4 655.62 306.33 649.08 310.6 647.3" stroke="#000" stroke-width="1.45" fill="none"/>
<line x1="80.1" y1="659.7" x2="88.7" y2="659.7" stroke="#000" stroke-width="1.4"/>
<line x1="130.3" y1="595" x2="138.9" y2="595" stroke="#000" stroke-width="1.4"/>
<line x1="130.3" y1="637.3" x2="138.9" y2="637.3" stroke="#000" stroke-width="1.4"/>
<line x1="130.3" y1="639.2" x2="138.9" y2="639.2" stroke="#000" stroke-width="1.4"/>
<line x1="130.3" y1="609" x2="138.9" y2="609" stroke="#000" stroke-width="1.4"/>
<line x1="180" y1="551.2" x2="188.6" y2="551.2" stroke="#000" stroke-width="1.4"/>
<line x1="180" y1="553" x2="188.6" y2="553" stroke="#000" stroke-width="1.4"/>
<line x1="180" y1="617.1" x2="188.6" y2="617.1" stroke="#000" stroke-width="1.4"/>
<line x1="180" y1="611.2" x2="188.6" y2="611.2" stroke="#000" stroke-width="1.4"/>
<line x1="206.1" y1="538.5" x2="214.7" y2="538.5" stroke="#000" stroke-width="1.4"/>
<line x1="206.1" y1="592" x2="214.7" y2="592" stroke="#000" stroke-width="1.4"/>
<line x1="206.1" y1="593" x2="214.7" y2="593" stroke="#000" stroke-width="1.4"/>
<line x1="206.1" y1="544.4" x2="214.7" y2="544.4" stroke="#000" stroke-width="1.4"/>
<line x1="230.3" y1="537.7" x2="238.9" y2="537.7" stroke="#000" stroke-width="1.4"/>
<line x1="230.3" y1="539.8" x2="238.9" y2="539.8" stroke="#000" stroke-width="1.4"/>
<line x1="230.3" y1="574.6" x2="238.9" y2="574.6" stroke="#000" stroke-width="1.4"/>
<line x1="230.3" y1="585.6" x2="238.9" y2="585.6" stroke="#000" stroke-width="1.4"/>
<line x1="157.3" y1="658" x2="165.9" y2="658" stroke="#000" stroke-width="1.4"/>
<line x1="230.3" y1="627.5" x2="238.9" y2="627.5" stroke="#000" stroke-width="1.4"/>
<line x1="230.3" y1="659.7" x2="238.9" y2="659.7" stroke="#000" stroke-width="1.4"/>
<line x1="230.3" y1="657.6" x2="238.9" y2="657.6" stroke="#000" stroke-width="1.4"/>
<line x1="230.3" y1="658.7" x2="238.9" y2="658.7" stroke="#000" stroke-width="1.4"/>
<line x1="230.3" y1="673.3" x2="238.9" y2="673.3" stroke="#000" stroke-width="1.4"/>
<line x1="255.9" y1="610.4" x2="264.5" y2="610.4" stroke="#000" stroke-width="1.4"/>
<line x1="255.9" y1="643.5" x2="264.5" y2="643.5" stroke="#000" stroke-width="1.4"/>
<line x1="255.9" y1="652.7" x2="264.5" y2="652.7" stroke="#000" stroke-width="1.4"/>
<line x1="255.9" y1="668.8" x2="264.5" y2="668.8" stroke="#000" stroke-width="1.4"/>
<line x1="280.7" y1="590.7" x2="289.3" y2="590.7" stroke="#000" stroke-width="1.4"/>
<line x1="280.7" y1="635.2" x2="289.3" y2="635.2" stroke="#000" stroke-width="1.4"/>
<line x1="280.7" y1="648.6" x2="289.3" y2="648.6" stroke="#000" stroke-width="1.4"/>
<line x1="280.7" y1="666.9" x2="289.3" y2="666.9" stroke="#000" stroke-width="1.4"/>
<line x1="306.3" y1="580.8" x2="314.9" y2="580.8" stroke="#000" stroke-width="1.4"/>
<line x1="306.3" y1="628.7" x2="314.9" y2="628.7" stroke="#000" stroke-width="1.4"/>
<line x1="306.3" y1="633.3" x2="314.9" y2="633.3" stroke="#000" stroke-width="1.4"/>
<line x1="306.3" y1="660.7" x2="314.9" y2="660.7" stroke="#000" stroke-width="1.4"/>
<line x1="84.4" y1="659.7" x2="84.4" y2="671" stroke="#000" stroke-width="1.4"/>
<line x1="134.6" y1="595" x2="134.6" y2="639.2" stroke="#000" stroke-width="1.4"/>
<line x1="184.3" y1="551.2" x2="184.3" y2="617.1" stroke="#000" stroke-width="1.4"/>
<line x1="210.4" y1="538.5" x2="210.4" y2="592.4" stroke="#000" stroke-width="1.4"/>
<line x1="234.6" y1="537.7" x2="234.6" y2="585.6" stroke="#000" stroke-width="1.4"/>
<line x1="234.6" y1="627.5" x2="234.6" y2="673.3" stroke="#000" stroke-width="1.4"/>
<line x1="161.6" y1="658" x2="161.6" y2="671" stroke="#000" stroke-width="1.4"/>
<line x1="260.2" y1="610.4" x2="260.2" y2="643.5" stroke="#000" stroke-width="1.4"/>
<line x1="260.2" y1="652.7" x2="260.2" y2="668.8" stroke="#000" stroke-width="1.4"/>
<line x1="285" y1="590.7" x2="285" y2="635.2" stroke="#000" stroke-width="1.4"/>
<line x1="285" y1="648.6" x2="285" y2="666.9" stroke="#000" stroke-width="1.4"/>
<line x1="310.6" y1="580.8" x2="310.6" y2="628.7" stroke="#000" stroke-width="1.4"/>
<line x1="310.6" y1="633.3" x2="310.6" y2="660.7" stroke="#000" stroke-width="1.4"/>
<path d="M84.4 666.9 L87.5 672.48 L81.3 672.48Z" fill="none" stroke="#000" stroke-width="1.2"/>
<path d="M134.6 620.8 L137.7 626.38 L131.5 626.38Z" fill="none" stroke="#000" stroke-width="1.2"/>
<path d="M184.3 580.7 L187.4 586.28 L181.2 586.28Z" fill="none" stroke="#000" stroke-width="1.2"/>
<path d="M210.4 564.8 L213.5 570.38 L207.3 570.38Z" fill="none" stroke="#000" stroke-width="1.2"/>
<path d="M234.6 558.8 L237.7 564.38 L231.5 564.38Z" fill="none" stroke="#000" stroke-width="1.2"/>
<path d="M84.4 666.4 L87.7 669.6 L84.4 672.8 L81.1 669.6Z" fill="#000" stroke="#000" stroke-width="1"/>
<path d="M134.6 613.9 L137.9 617.1 L134.6 620.3 L131.3 617.1Z" fill="#000" stroke="#000" stroke-width="1"/>
<path d="M184.3 581.1 L187.6 584.3 L184.3 587.5 L181 584.3Z" fill="#000" stroke="#000" stroke-width="1"/>
<path d="M210.4 562.2 L213.7 565.4 L210.4 568.6 L207.1 565.4Z" fill="#000" stroke="#000" stroke-width="1"/>
<path d="M234.6 554.7 L237.9 557.9 L234.6 561.1 L231.3 557.9Z" fill="#000" stroke="#000" stroke-width="1"/>
<path d="M161.6 667.1 L164.7 672.68 L158.5 672.68Z" fill="none" stroke="#000" stroke-width="1.2"/>
<path d="M234.6 662.1 L237.7 667.68 L231.5 667.68Z" fill="none" stroke="#000" stroke-width="1.2"/>
<path d="M260.2 658.5 L263.3 664.08 L257.1 664.08Z" fill="none" stroke="#000" stroke-width="1.2"/>
<path d="M285 654.9 L288.1 660.48 L281.9 660.48Z" fill="none" stroke="#000" stroke-width="1.2"/>
<path d="M310.6 644.2 L313.7 649.78 L307.5 649.78Z" fill="none" stroke="#000" stroke-width="1.2"/>
<path d="M161.6 662.9 L164.9 666.1 L161.6 669.3 L158.3 666.1Z" fill="#000" stroke="#000" stroke-width="1"/>
<path d="M234.6 640.3 L237.9 643.5 L234.6 646.7 L231.3 643.5Z" fill="#000" stroke="#000" stroke-width="1"/>
<path d="M260.2 624.2 L263.5 627.4 L260.2 630.6 L256.9 627.4Z" fill="#000" stroke="#000" stroke-width="1"/>
<path d="M285 609.9 L288.3 613.1 L285 616.3 L281.7 613.1Z" fill="#000" stroke="#000" stroke-width="1"/>
<path d="M310.6 601.8 L313.9 605 L310.6 608.2 L307.3 605Z" fill="#000" stroke="#000" stroke-width="1"/>
<text x="235.4" y="630.74" font-family="&quot;Liberation Sans&quot;,Arial,sans-serif" font-size="16" font-weight="normal" text-anchor="middle" stroke="#000" stroke-width="0.45" >*</text>
<text x="260.9" y="613.04" font-family="&quot;Liberation Sans&quot;,Arial,sans-serif" font-size="16" font-weight="normal" text-anchor="middle" stroke="#000" stroke-width="0.45" >*</text>
<text x="284.8" y="592.84" font-family="&quot;Liberation Sans&quot;,Arial,sans-serif" font-size="16" font-weight="normal" text-anchor="middle" stroke="#000" stroke-width="0.45" >*</text>
<text x="310" y="585.14" font-family="&quot;Liberation Sans&quot;,Arial,sans-serif" font-size="16" font-weight="normal" text-anchor="middle" stroke="#000" stroke-width="0.45" >*</text>
<text x="0" y="513.3" font-family="&quot;Liberation Sans&quot;,Arial,sans-serif" font-size="24.5" font-weight="bold" text-anchor="start" stroke="#000" stroke-width="0.18" >C</text>
<text x="90.4" y="697.3" font-family="&quot;Liberation Serif&quot;,&quot;Times New Roman&quot;,serif" font-size="13.1" font-weight="normal" text-anchor="start" stroke="#000" stroke-width="0.22" >short peptide</text>
<text x="221.8" y="696.9" font-family="&quot;Liberation Serif&quot;,&quot;Times New Roman&quot;,serif" font-size="13.05" font-weight="normal" text-anchor="start" stroke="#000" stroke-width="0.22" >long peptide</text>
<text x="117.3" y="716.2" font-family="&quot;Liberation Serif&quot;,&quot;Times New Roman&quot;,serif" font-size="13.05" font-weight="normal" text-anchor="start" stroke="#000" stroke-width="0.22" >peptide concentration (uM)</text>
<text transform="translate(27.8,580.1) rotate(-90)" font-family="&quot;Liberation Serif&quot;,serif" font-size="13.2" text-anchor="middle" stroke="#000" stroke-width="0.22">γ-IFN (pg/mL)</text>
<line x1="269.2" y1="529.2" x2="298.6" y2="529.2" stroke="#000" stroke-width="1.5"/>
<path d="M283.6 526.25 L286.65 529.2 L283.6 532.15 L280.55 529.2Z" fill="#000" stroke="#000" stroke-width="1"/>
<text x="301.3" y="532.2" font-family="&quot;Liberation Sans&quot;,Arial,sans-serif" font-size="11.5" font-weight="normal" text-anchor="start" stroke="#000" stroke-width="0.18" >control DC</text>
<line x1="269.2" y1="546.4" x2="298.6" y2="546.4" stroke="#000" stroke-width="1.5"/>
<path d="M283.6 543.7 L286.5 548.92 L280.7 548.92Z" fill="none" stroke="#000" stroke-width="1.2"/>
<text x="301.3" y="548.9" font-family="&quot;Liberation Sans&quot;,Arial,sans-serif" font-size="11.5" font-weight="normal" text-anchor="start" stroke="#000" stroke-width="0.18" letter-spacing="-0.55">CGD-DC</text>
<text x="373.7" y="598.3" font-family="&quot;Liberation Serif&quot;,&quot;Times New Roman&quot;,serif" font-size="13.25" font-weight="bold" text-anchor="start" stroke="#000" stroke-width="0.22" >MelanA/MART-1</text>
</g>
</svg>
</body>
</html>
